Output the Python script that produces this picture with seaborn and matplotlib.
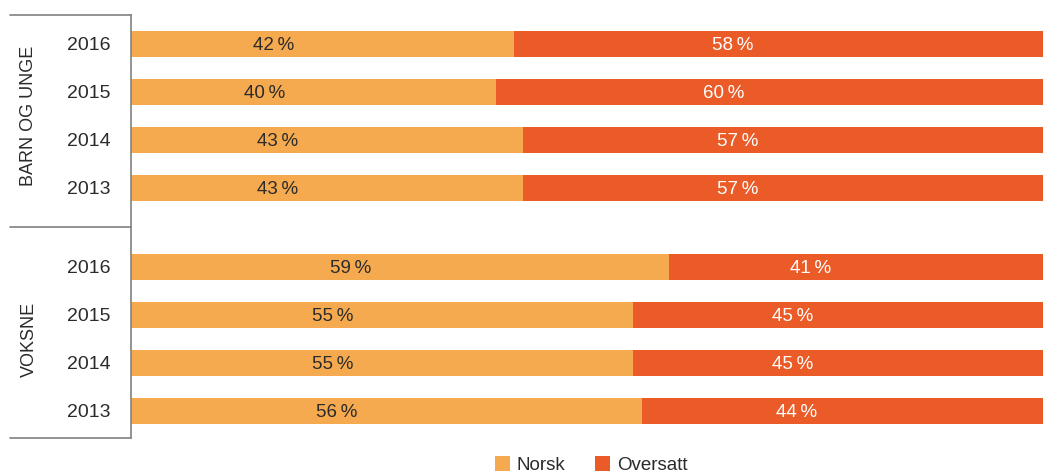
import matplotlib
matplotlib.use("Agg")
import matplotlib.pyplot as plt
from matplotlib.lines import Line2D
from matplotlib.patches import Patch
import seaborn as sns
import pandas as pd

# Data: share of published titles, Norwegian original vs. translated
groups = ["BARN OG UNGE", "VOKSNE"]
years = ["2016", "2015", "2014", "2013"]
norsk_barn = [42, 40, 43, 43]
oversatt_barn = [58, 60, 57, 57]
norsk_voksne = [59, 55, 55, 56]
oversatt_voksne = [41, 45, 45, 44]
series_names = ["Norsk", "Oversatt"]

col_norsk = "#F6AA4F"
col_oversatt = "#EA5B27"
text_dark = "#2b2b2b"
line_grey = "#808080"

sns.set_theme(style="white")
plt.rcParams["font.family"] = ["Liberation Sans", "DejaVu Sans"]

# Row positions: two blocks of four years with a gap between them
gap = 0.646
pos = [0, 1, 2, 3] + [4 + gap + i for i in range(4)]
df = pd.DataFrame({
    "pos": pos,
    "year": years + years,
    "norsk": norsk_barn + norsk_voksne,
    "oversatt": oversatt_barn + oversatt_voksne,
})
df["total"] = df["norsk"] + df["oversatt"]

fig = plt.figure(figsize=(10.43, 4.72), dpi=100)
ax = fig.add_axes([131 / 1043, 1 - 438 / 472, 1 - 131 / 1043, (438 - 15) / 472])

# Stacked bars: full length in the translated colour, Norwegian share on top
sns.barplot(data=df, x="total", y="pos", orient="h", native_scale=True,
            color=col_oversatt, saturation=1, width=0.55, ax=ax, linewidth=0)
sns.barplot(data=df, x="norsk", y="pos", orient="h", native_scale=True,
            color=col_norsk, saturation=1, width=0.55, ax=ax, linewidth=0)

ax.set_xlim(0, 100)
ax.set_ylim(8.21, -0.604)
ax.set_xlabel("")
ax.set_ylabel("")
ax.set_xticks([])
ax.set_yticks(df["pos"])
ax.set_yticklabels(df["year"], fontsize=14, color=text_dark)
ax.tick_params(axis="y", length=0, pad=15)
for s in ["top", "right", "bottom"]:
    ax.spines[s].set_visible(False)
ax.spines["left"].set_color(line_grey)
ax.spines["left"].set_linewidth(1.2)

# Value labels inside each segment
for _, r in df.iterrows():
    ax.text(r["norsk"] / 2 - 5.4, r["pos"], f"{r['norsk']}\u2009%",
            ha="center", va="center_baseline", fontsize=13.5, color=text_dark)
    ax.text(r["norsk"] + r["oversatt"] / 2 - 5.0, r["pos"], f"{r['oversatt']}\u2009%",
            ha="center", va="center_baseline", fontsize=13.5, color="white")

# Horizontal rules framing the two groups on the left
x0, x1 = 10 / 1043, 131 / 1043
for ypx in [15, 227, 438]:
    yf = 1 - ypx / 472
    fig.add_artist(Line2D([x0, x1], [yf, yf], color=line_grey, lw=1.2,
                          transform=fig.transFigure))

# Group labels, rotated
for g, rows in zip(groups, [pos[:4], pos[4:]]):
    yc = sum(rows) / len(rows)
    ax.text(-102 / 912 * 100, yc, g, rotation=90, ha="center", va="center",
            fontsize=13, color=text_dark, clip_on=False)

# Legend
handles = [Patch(facecolor=col_norsk, edgecolor="none"),
           Patch(facecolor=col_oversatt, edgecolor="none")]
fig.legend(handles, series_names, loc="lower center", ncol=2, frameon=False,
           bbox_to_anchor=(591 / 1043, -0.040), fontsize=13.5,
           handlelength=0.8, handleheight=0.8, handletextpad=0.35,
           columnspacing=1.63, labelcolor=text_dark)

fig.savefig("out.png", dpi=100)
